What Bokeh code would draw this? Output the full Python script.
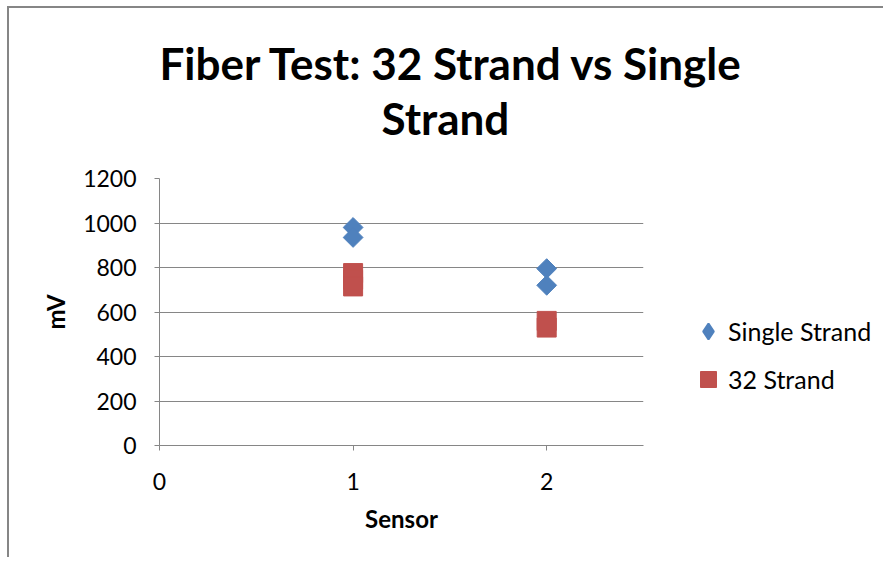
from bokeh.plotting import figure
from bokeh.models import Range1d, FixedTicker, Legend, LegendItem, Title
from bokeh.embed import file_html
from bokeh.resources import INLINE

# ---- data ----
title_line1 = "Fiber Test: 32 Strand vs Single"
title_line2 = "Strand"
x_label = "Sensor"
y_label = "mV"
series_names = ["Single Strand", "32 Strand"]
single_x = [1, 1, 2, 2]
single_y = [980, 935, 795, 720]
strand32_x = [1, 1, 1, 2, 2]
strand32_y = [775, 745, 715, 560, 530]
x_ticks = [0, 1, 2]
y_ticks = [0, 200, 400, 600, 800, 1000, 1200]

FONT = "Lato"
GRAY = "#868686"
BLUE = "#4F81BD"
RED = "#C0504D"

p = figure(frame_width=484, frame_height=267, output_backend="svg", toolbar_location=None,
           x_range=Range1d(0, 2.5), y_range=Range1d(0, 1200),
           min_border_left=150, min_border_right=240, min_border_top=170,
           min_border_bottom=112)
p.styles = {"margin-left": "7px", "margin-top": "6px",
            "border-left": "2px solid #868686", "border-top": "2px solid #868686"}
p.outline_line_color = None
p.background_fill_color = "white"
p.border_fill_color = "white"

p.title = Title(text=title_line1, align="left", offset=0, standoff=2,
                text_font=FONT, text_font_style="bold", text_font_size="44px",
                text_color="black")
# blank spacer between the plot area and the second title line
p.add_layout(Title(text=" ", standoff=21, text_font=FONT, text_font_size="10px"),
             "above")
p.add_layout(Title(text=title_line2, align="left", offset=222, standoff=0,
                   text_font=FONT, text_font_style="bold", text_font_size="44px",
                   text_color="black"), "above")

# diamond glyph (under the rotated squares) used for the legend swatch
l1 = p.scatter(single_x, single_y, marker="diamond", size=13, line_width=2,
               fill_color=BLUE, line_color=BLUE)
r1 = p.scatter(single_x, single_y, marker="square", angle=0.785398, size=14,
               fill_color=BLUE, line_color=BLUE)
r2 = p.scatter(strand32_x, strand32_y, marker="square", size=19, line_width=1,
               fill_color=RED, line_color=RED)

p.xgrid.visible = False
p.ygrid.grid_line_color = GRAY
p.ygrid.grid_line_width = 1

for ax in (p.xaxis[0], p.yaxis[0]):
    ax.axis_line_color = GRAY
    ax.major_tick_line_color = GRAY
    ax.minor_tick_line_color = None
    ax.major_tick_in = 0
    ax.major_tick_out = 5
    ax.major_label_text_font = FONT
    ax.major_label_text_font_size = "23px"
    ax.major_label_text_color = "black"
    ax.axis_label_text_font = FONT
    ax.axis_label_text_font_size = "24px"
    ax.axis_label_text_font_style = "bold"
    ax.axis_label_text_color = "black"

p.xaxis.ticker = FixedTicker(ticks=x_ticks)
p.yaxis.ticker = FixedTicker(ticks=y_ticks)
p.xaxis.axis_label = x_label
p.yaxis.axis_label = y_label
p.yaxis.major_label_standoff = 18
p.xaxis.major_label_standoff = 22
p.yaxis.axis_label_standoff = 10
p.xaxis.axis_label_standoff = 11

legend = Legend(items=[LegendItem(label=series_names[0], renderers=[l1]),
                       LegendItem(label=series_names[1], renderers=[r2])],
                location=(45, 46), border_line_color=None,
                background_fill_alpha=0, padding=0, margin=0,
                glyph_width=40, glyph_height=40, label_height=20,
                spacing=8, label_standoff=0,
                label_text_font=FONT, label_text_font_size="25px",
                label_text_color="black")
p.add_layout(legend, "right")

open("out.html", "w").write(file_html(p, INLINE))
